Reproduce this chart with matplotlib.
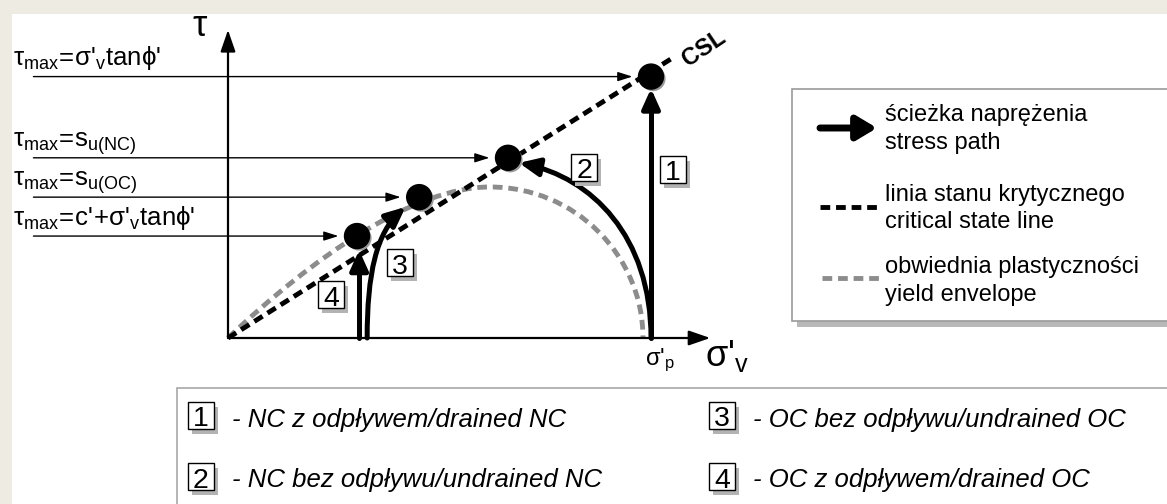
import matplotlib
matplotlib.use("Agg")
import matplotlib.pyplot as plt
import matplotlib.patheffects as pe
from matplotlib.patches import FancyArrowPatch, Rectangle
from matplotlib.path import Path

plt.rcParams["font.family"] = ["Liberation Sans", "DejaVu Sans"]
plt.rcParams["mathtext.fontset"] = "custom"
plt.rcParams["mathtext.rm"] = "Liberation Sans"
plt.rcParams["mathtext.it"] = "Liberation Sans:italic"
plt.rcParams["mathtext.bf"] = "Liberation Sans:bold"

W, H, DPI = 1167, 504, 100
S = 42.3            # pixels per stress unit
X0, Y0 = 228, 338   # origin of the diagram in pixels

# stress units: sigma'_p = 10
sigma_p = 10.0
csl_slope = 0.63
csl_end = 10.5
axis_x_end = 11.4
axis_y_end = 7.28

# failure points (1 NC drained, 2 NC undrained, 3 OC undrained, 4 OC drained)
fail_sigma = [10.0, 6.62, 4.52, 3.05]
fail_tau = [6.18, 4.26, 3.33, 2.41]
level_labels = [r"$\mathrm{\tau_{max}\!=\!\sigma\text{'}_{v}tan\phi\text{'}}$",
                r"$\mathrm{\tau_{max}\!=\!s_{u(NC)}}$",
                r"$\mathrm{\tau_{max}\!=\!s_{u(OC)}}$",
                r"$\mathrm{\tau_{max}\!=\!c\text{'}\!+\!\sigma\text{'}_{v}tan\phi\text{'}}$"]

# stress paths (control points of cubic curves)
path1_sigma = [10.0, 10.0]
path1_tau = [0.0, 5.9]
path2_sigma = [10.0, 10.0, 8.6, 6.88]
path2_tau = [0.0, 2.4, 3.8, 4.14]
path3_sigma = [3.29, 3.29, 3.5, 4.2]
path3_tau = [0.0, 1.5, 2.5, 3.1]
path4_sigma = [3.1, 3.1]
path4_tau = [0.0, 2.08]

# yield envelope (two cubic segments)
yield_sigma = [0.0, 2.0, 4.4, 6.19, 8.19, 9.81, 9.81]
yield_tau = [0.0, 1.9, 3.57, 3.57, 3.57, 1.97, 0.0]

# number boxes in the diagram (pixel centres)
box_labels = ["1", "2", "3", "4"]
box_x = [673, 584, 400, 331]
box_y = [169, 167, 262, 294]

legend_items = ["- NC z odpływem/drained NC", "- NC bez odpływu/undrained NC",
                "- OC bez odpływu/undrained OC", "- OC z odpływem/drained OC"]

fig = plt.figure(figsize=(W / DPI, H / DPI), dpi=DPI, facecolor="#EEEBE3")

# pixel layer: background, legends, labels
px_ax = fig.add_axes([0, 0, 1, 1], zorder=0)
px_ax.set_xlim(0, W)
px_ax.set_ylim(H, 0)
px_ax.axis("off")
px = px_ax.transData
px_ax.add_patch(Rectangle((12, 14), W, H, fc="white", ec="none"))

# diagram layer
ax = fig.add_axes([0, 0, 1, 1], zorder=1)
ax.set_xlim(-X0 / S, (W - X0) / S)
ax.set_ylim(-(H - Y0) / S, Y0 / S)
ax.axis("off")
ax.patch.set_alpha(0)


def num_box(axis, x, y, label, z=6):
    w, h = 26, 27
    axis.add_patch(Rectangle((x - w / 2 + 4, y - h / 2 + 5), w, h, fc="#b3b3b3",
                             ec="none", transform=px, zorder=z))
    axis.add_patch(Rectangle((x - w / 2, y - h / 2), w, h, fc="white", ec="black",
                             lw=1.0, transform=px, zorder=z + 0.1))
    axis.text(x, y + 1.5, label, ha="center", va="center_baseline", fontsize=20.5,
              transform=px, zorder=z + 0.2)


def curve(xs, ys):
    pts = list(zip(xs, ys))
    if len(pts) == 2:
        return Path(pts, [Path.MOVETO, Path.LINETO])
    return Path(pts, [Path.MOVETO] + [Path.CURVE4] * (len(pts) - 1))


# axes with arrows
for xs, ys in [([0, axis_x_end], [0, 0]), ([0, 0], [0, axis_y_end])]:
    ax.add_patch(FancyArrowPatch(path=curve(xs, ys), color="black", lw=1.6,
                                 arrowstyle="-|>,head_length=1.3,head_width=0.45",
                                 mutation_scale=10, zorder=3))

# yield envelope and CSL
ax.add_patch(FancyArrowPatch(path=curve(yield_sigma, yield_tau), arrowstyle="-",
                             color="#8c8c8c", lw=3.5, linestyle=(0, (2.0, 1.2)),
                             capstyle="butt", zorder=2))
ax.plot([0, csl_end], [0, csl_slope * csl_end], color="black", lw=3.5,
        dashes=(2.0, 1.2), solid_capstyle="butt", dash_capstyle="butt", zorder=4)
ax.text(11.25, 6.85, "CSL", fontsize=17, fontweight="bold", rotation=34,
        ha="center", va="center", zorder=4)

# stress paths
for xs, ys in [(path1_sigma, path1_tau), (path2_sigma, path2_tau),
               (path3_sigma, path3_tau), (path4_sigma, path4_tau)]:
    ax.add_patch(FancyArrowPatch(path=curve(xs, ys), color="black", lw=3.6,
                                 arrowstyle="-|>,head_length=1.0,head_width=0.45",
                                 mutation_scale=12, zorder=5))

# tau_max levels
for s, t, lab in zip(fail_sigma, fail_tau, level_labels):
    ax.add_patch(FancyArrowPatch((-4.6, t), (s - 0.44, t), color="black", lw=1.0,
                                 arrowstyle="-|>,head_length=1.1,head_width=0.35",
                                 mutation_scale=8, shrinkA=0, shrinkB=0, zorder=3))
    ax.text(-5.08, t + 0.27, lab, fontsize=18.5, ha="left", va="baseline", zorder=3)

# failure points
ax.plot(fail_sigma, fail_tau, "o", color="black", ms=18, zorder=8,
        path_effects=[pe.SimplePatchShadow(offset=(1.5, -1.5), shadow_rgbFace="#9a9a9a",
                                           alpha=1.0), pe.Normal()])

for lab, x, y in zip(box_labels, box_x, box_y):
    num_box(ax, x, y, lab)

# axis labels
px_ax.text(200, 26, r"$\mathrm{\tau}$", fontsize=26, ha="center", va="center")
px_ax.text(727, 356, r"$\mathrm{\sigma\text{'}_{v}}$", fontsize=26, ha="center", va="center")
px_ax.text(660, 360, r"$\mathrm{\sigma\text{'}_{p}}$", fontsize=17, ha="center", va="center")

# upper legend
px_ax.add_patch(Rectangle((797, 95), 420, 232, fc="#b8b8b8", ec="none"))
px_ax.add_patch(Rectangle((792, 89), 420, 232, fc="white", ec="#9a9a9a", lw=1.2))
px_ax.add_patch(FancyArrowPatch((820, 128), (877, 128), color="black", lw=5,
                                arrowstyle="-|>,head_length=1.0,head_width=0.6",
                                mutation_scale=12, shrinkA=0, shrinkB=0))
px_ax.plot([820, 877], [207, 207], color="black", lw=3.5, dashes=(2.0, 1.2))
px_ax.plot([822, 879], [278, 278], color="#8c8c8c", lw=3.5, dashes=(2.0, 1.2))
for y, txt in [(113, "ścieżka naprężenia"), (140, "stress path"),
               (192, "linia stanu krytycznego"), (220, "critical state line"),
               (265, "obwiednia plastyczności"), (292, "yield envelope")]:
    px_ax.text(885, y, txt, fontsize=17, ha="left", va="center_baseline")

# lower legend
px_ax.add_patch(Rectangle((177, 388), 1010, 140, fc="white", ec="#a8a8a8", lw=1.2))
for lab, txt, x, y in zip(box_labels, legend_items, [201, 201, 722, 722], [415, 476, 415, 476]):
    num_box(px_ax, x, y, lab)
    px_ax.text(x + 31, y + 2, txt, fontsize=18.5, style="italic", ha="left",
               va="center_baseline")

fig.savefig("out.png", dpi=DPI, facecolor=fig.get_facecolor())
